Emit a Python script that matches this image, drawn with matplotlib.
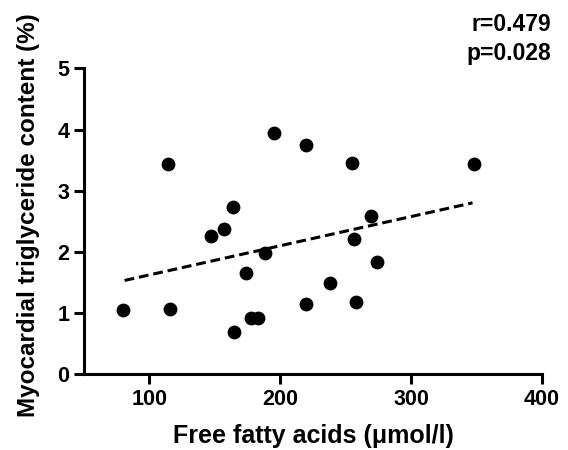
import numpy as np
import matplotlib.pyplot as plt

plt.rcParams['font.family'] = ['Liberation Sans', 'DejaVu Sans']
plt.rcParams['font.weight'] = 'bold'

# free fatty acids (umol/l) vs myocardial TG content (%)
ffa = [80, 114, 116, 147, 157, 164, 165, 174, 178, 183, 188, 195,
       220, 220, 238, 255, 256, 258, 269, 274, 348]
mtg = [1.04, 3.43, 1.07, 2.25, 2.37, 2.73, 0.69, 1.66, 0.91, 0.91, 1.98, 3.95,
       3.74, 1.15, 1.49, 3.45, 2.21, 1.18, 2.58, 1.83, 3.43]
# regression line end points
fit_x = [81, 347]
fit_y = [1.53, 2.80]

fig = plt.figure(figsize=(5.68, 4.5), dpi=100)
ax = fig.add_axes([0.148, 0.169, 0.806, 0.679])

ax.scatter(ffa, mtg, s=80, color='black', zorder=3, clip_on=False)
ax.plot(fit_x, fit_y, color='black', lw=2.2, linestyle=(0, (3.2, 1.6)))

ax.set_xlim(50, 400)
ax.set_ylim(0, 5)
ax.set_xticks([100, 200, 300, 400])
ax.set_yticks([0, 1, 2, 3, 4, 5])

for s in ['top', 'right']:
    ax.spines[s].set_visible(False)
for s in ['left', 'bottom']:
    ax.spines[s].set_linewidth(2.2)
ax.tick_params(width=2.2, length=7, labelsize=15.5)
ax.tick_params(axis='x', pad=4)
ax.tick_params(axis='y', pad=3.5)

ax.set_xlabel('Free fatty acids (\u03bcmol/l)', fontsize=18, fontweight='bold', va='baseline')
ax.xaxis.set_label_coords(0.502, -0.2255)
ax.set_ylabel('Myocardial triglyceride content (%)', fontsize=17.5, fontweight='bold', va='center')
ax.yaxis.set_label_coords(-0.122, 0.52)

fig.text(0.970, 0.931, 'r=0.479', ha='right', va='baseline', fontsize=16.5, fontweight='bold')
fig.text(0.970, 0.867, 'p=0.028', ha='right', va='baseline', fontsize=16.5, fontweight='bold')

plt.savefig('out.png', dpi=100)
